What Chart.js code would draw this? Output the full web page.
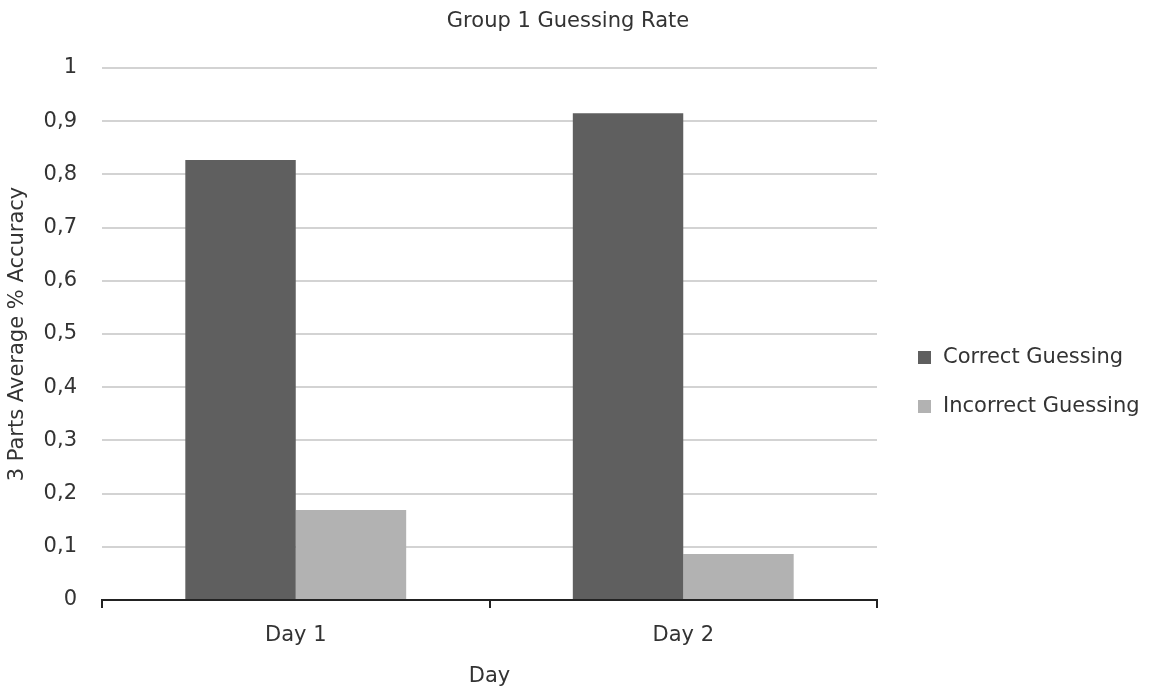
<!DOCTYPE html>
<html lang="en">
<head>
<meta charset="UTF-8">
<title>Group 1 Guessing Rate</title>
<script src="https://cdn.jsdelivr.net/npm/chart.js"></script>
<style>
  html, body { margin: 0; padding: 0; background: #fff; }
  #wrap { width: 1153px; height: 691px; }
</style>
</head>
<body>
<div id="wrap"><canvas id="guessChart" width="1153" height="691"></canvas></div>
<script>
// Data
const days = ['Day 1', 'Day 2'];
const correctGuessing = [0.827, 0.915];
const incorrectGuessing = [0.169, 0.0865];
const yTickLabels = ['0', '0,1', '0,2', '0,3', '0,4', '0,5', '0,6', '0,7', '0,8', '0,9', '1'];

const FONT = 'DejaVu Sans';
const SIZE = 21;
const TEXT = '#333333';

// legend drawn at the right, like the original
const sideLegend = {
    id: 'sideLegend',
    afterDraw(chart) {
        const ctx = chart.ctx;
        const area = chart.chartArea;
        const x = area.right + 41;
        const rows = [357, 406];
        ctx.save();
        ctx.font = SIZE + 'px "' + FONT + '"';
        ctx.textBaseline = 'middle';
        ctx.textAlign = 'left';
        chart.data.datasets.forEach((ds, i) => {
            ctx.fillStyle = ds.backgroundColor;
            ctx.fillRect(x, rows[i] - 6, 13, 13);
            ctx.fillStyle = TEXT;
            ctx.fillText(ds.label, x + 25, rows[i] + 1);
        });
        ctx.restore();
    }
};

const ctx = document.getElementById('guessChart').getContext('2d');
new Chart(ctx, {
    type: 'bar',
    data: {
        labels: days,
        datasets: [
            { label: 'Correct Guessing', data: correctGuessing, backgroundColor: '#5f5f5f' },
            { label: 'Incorrect Guessing', data: incorrectGuessing, backgroundColor: '#b2b2b2' }
        ]
    },
    options: {
        responsive: false,
        animation: false,
        layout: { padding: { top: 0, right: 17, bottom: 0, left: 0 } },
        datasets: { bar: { categoryPercentage: 0.57, barPercentage: 1 } },
        plugins: {
            legend: { display: false },
            tooltip: { enabled: false },
            title: {
                display: true,
                text: 'Group 1 Guessing Rate',
                color: TEXT,
                font: { family: FONT, size: SIZE, weight: 'normal' },
                padding: { top: 9.4, bottom: 33.4 }
            }
        },
        scales: {
            x: {
                grid: { display: true, drawOnChartArea: false, offset: true, tickLength: 8, color: '#222', lineWidth: 2 },
                border: { display: true, color: '#222', width: 2 },
                ticks: { color: TEXT, font: { family: FONT, size: SIZE }, padding: 15.4 },
                title: {
                    display: true,
                    text: 'Day',
                    color: TEXT,
                    font: { family: FONT, size: SIZE },
                    padding: { top: 0, bottom: 1.8 }
                }
            },
            y: {
                min: 0,
                max: 1,
                afterFit(scale) { scale.width = 102; },
                grid: { color: '#d3d3d3', lineWidth: 2, drawTicks: false },
                border: { display: false },
                ticks: {
                    stepSize: 0.1,
                    padding: 25,
                    color: TEXT,
                    font: { family: FONT, size: SIZE },
                    callback: (v, i) => yTickLabels[i]
                },
                title: {
                    display: true,
                    text: '3 Parts Average % Accuracy',
                    color: TEXT,
                    font: { family: FONT, size: SIZE },
                    padding: { top: 5.4, bottom: 4 }
                }
            },
            // empty axis that keeps the room for the legend on the right
            side: {
                position: 'right',
                afterFit(scale) { scale.width = 259; },
                grid: { display: false },
                border: { display: false },
                ticks: { display: false }
            }
        }
    },
    plugins: [sideLegend]
});
</script>
</body>
</html>
